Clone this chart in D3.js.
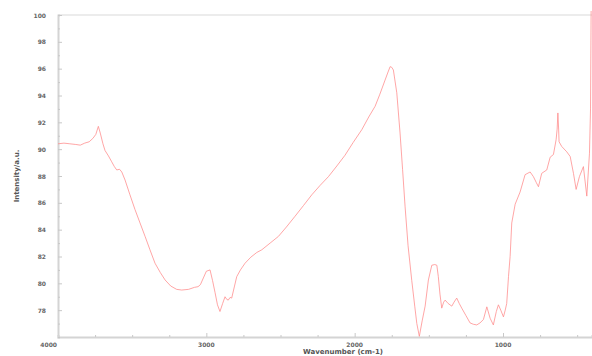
<!DOCTYPE html>
<html>
<head>
<meta charset="utf-8">
<script src="https://cdn.jsdelivr.net/npm/d3@7"></script>
<style>
  html, body { margin: 0; padding: 0; background: #fff; }
  text { font-family: "DejaVu Sans", sans-serif; }
</style>
</head>
<body>
<div id="app"></div>
<script>
// wavenumber (cm-1)
const wavenumber = [4000, 3960, 3920, 3880, 3850, 3820, 3790, 3765, 3745, 3728, 3715, 3697, 3683, 3660, 3640,
  3620, 3604, 3585, 3570, 3548, 3515, 3481, 3447, 3413, 3380, 3346, 3310, 3278, 3240, 3200, 3166, 3120, 3080,
  3056, 3040, 3020, 3000, 2975, 2958, 2941, 2925, 2908, 2890, 2874, 2862, 2852, 2840, 2829, 2810, 2795, 2770,
  2739, 2700, 2660, 2626, 2570, 2514, 2460, 2402, 2345, 2289, 2233, 2177, 2120, 2065, 2010, 1952, 1905, 1862,
  1830, 1795, 1775, 1761, 1750, 1739, 1716, 1694, 1677, 1660, 1640, 1615, 1595, 1581, 1564, 1545, 1525, 1503,
  1480, 1460, 1446, 1436, 1425, 1413, 1400, 1390, 1370, 1345, 1330, 1312, 1295, 1278, 1250, 1222, 1200, 1177,
  1155, 1132, 1109, 1087, 1065, 1045, 1031, 1015, 997, 985, 975, 963, 952, 941, 918, 885, 851, 817, 795, 775,
  761, 739, 705, 682, 660, 642, 635, 630, 625, 622, 604, 570, 547, 525, 507, 485, 458, 435, 417, 410, 406];

// intensity (a.u.)
const intensity = [90.4, 90.45, 90.4, 90.35, 90.3, 90.45, 90.55, 90.8, 91.1, 91.7, 91.2, 90.4, 89.9, 89.5, 89.1,
  88.7, 88.45, 88.5, 88.3, 87.7, 86.6, 85.5, 84.5, 83.5, 82.5, 81.5, 80.8, 80.25, 79.8, 79.55, 79.5, 79.55, 79.7,
  79.75, 79.9, 80.4, 80.9, 81.0, 80.2, 79.3, 78.4, 77.9, 78.5, 79.0, 78.8, 78.75, 78.95, 78.9, 79.8, 80.5, 81.0,
  81.5, 81.95, 82.3, 82.5, 83.0, 83.5, 84.2, 85.0, 85.8, 86.6, 87.3, 87.95, 88.75, 89.55, 90.5, 91.45, 92.4, 93.2,
  94.1, 95.15, 95.75, 96.15, 96.1, 95.9, 94.2, 91.2, 88.5, 85.7, 82.8, 80.2, 78.3, 77.0, 76.05, 77.2, 78.3, 80.25,
  81.35, 81.4, 81.35, 80.5, 79.2, 78.15, 78.6, 78.75, 78.5, 78.3, 78.6, 78.9, 78.5, 78.15, 77.6, 77.05, 76.95, 76.9,
  77.05, 77.3, 78.25, 77.4, 76.9, 77.9, 78.4, 78.0, 77.5, 78.0, 78.5, 80.5, 82.0, 84.5, 85.9, 86.8, 88.1, 88.3, 87.95, 87.5,
  87.2, 88.2, 88.45, 89.4, 89.6, 90.7, 91.5, 92.7, 91.5, 90.55, 90.2, 89.8, 89.45, 88.2, 87.0, 87.95, 88.7, 86.5, 89.7, 93, 100.3];

const xTicks = [4000, 3000, 2000, 1000];
const yTicks = [78, 80, 82, 84, 86, 88, 90, 92, 94, 96, 98, 100];

const width = 592, height = 356,
  margin = { top: 15, right: 0, bottom: 19, left: 58 };

const svg = d3.select("#app")
.append("svg")
  .attr("width", width)
  .attr("height", height);

const x = d3.scaleLinear().domain([4000, 400]).range([margin.left, width - margin.right]);
const y = d3.scaleLinear().domain([76, 100]).range([height - margin.bottom, margin.top]);

/* 1. frame top line */
svg.append("line")
  .attr("x1", margin.left).attr("x2", width)
  .attr("y1", margin.top).attr("y2", margin.top)
  .attr("stroke", "#e6e6e6").attr("stroke-width", 1.5);

/* 2. axes, ticks pointing inward */
const xAxis = svg.append("g")
  .attr("transform", `translate(0,${height - margin.bottom})`)
  .call(d3.axisTop(x).tickValues(d3.range(4000, 399, -250)).tickSize(2).tickFormat(""));
xAxis.selectAll(".tick line").filter(d => xTicks.includes(d)).attr("y2", -4);

const yAxis = svg.append("g")
  .attr("transform", `translate(${margin.left},0)`)
  .call(d3.axisRight(y).tickValues(d3.range(76, 100.1, 1)).tickSize(2).tickFormat(""));
yAxis.selectAll(".tick line").filter(d => yTicks.includes(d)).attr("x2", 4);

svg.selectAll(".domain").attr("stroke", "#d4d4d4").attr("stroke-width", 2);
svg.selectAll(".tick line").attr("stroke", "#c8c8c8");

/* 3. tick labels */
svg.append("g").selectAll("text")
.data(xTicks)
.enter()
.append("text")
  .attr("x", (d, i) => i === 0 ? x(d) - 1 : x(d))
  .attr("y", height - margin.bottom + 10)
  .attr("text-anchor", (d, i) => i === 0 ? "end" : "middle")
  .attr("font-size", 6)
  .attr("font-weight", "bold")
  .attr("fill", "#666")
  .text(d => d);

svg.append("g").selectAll("text")
.data(yTicks)
.enter()
.append("text")
  .attr("x", 46)
  .attr("y", d => y(d) + 2.5)
  .attr("text-anchor", "end")
  .attr("font-size", 6)
  .attr("font-weight", "bold")
  .attr("fill", "#666")
  .text(d => d);

/* 4. axis titles */
svg.append("text")
  .attr("x", (margin.left + width) / 2 + 18)
  .attr("y", height - 2)
  .attr("text-anchor", "middle")
  .attr("font-size", 7)
  .attr("font-weight", "bold")
  .attr("fill", "#555")
  .text("Wavenumber (cm-1)");

svg.append("text")
  .attr("transform", `translate(19,${(margin.top + height - margin.bottom) / 2}) rotate(-90)`)
  .attr("text-anchor", "middle")
  .attr("font-size", 7)
  .attr("font-weight", "bold")
  .attr("fill", "#555")
  .text("Intensity/a.u.");

/* 5. spectrum line */
const line = d3.line()
  .x(d => x(d[0]))
  .y(d => y(d[1]));

svg.append("path")
  .datum(d3.zip(wavenumber, intensity))
  .attr("d", line)
  .attr("fill", "none")
  .attr("stroke", "#f88")
  .attr("stroke-width", 1)
  .attr("stroke-opacity", 0.75);
</script>
</body>
</html>
